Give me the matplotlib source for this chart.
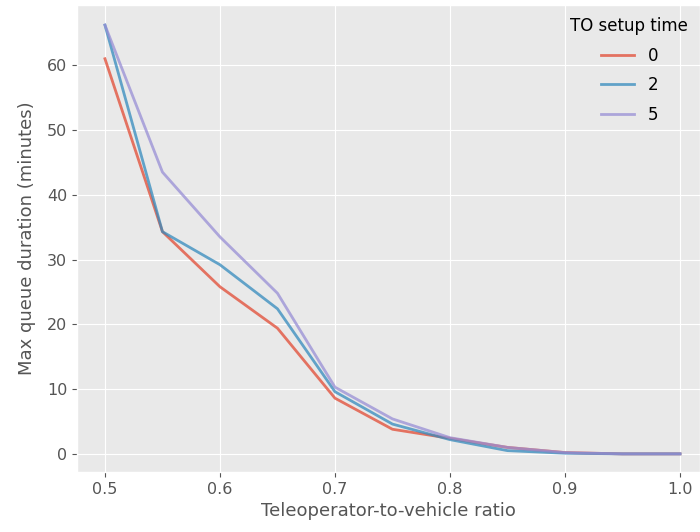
import matplotlib
matplotlib.use("Agg")
import matplotlib.pyplot as plt

plt.style.use("ggplot")

ratio = [0.5, 0.55, 0.6, 0.65, 0.7, 0.75, 0.8, 0.85, 0.9, 0.95, 1.0]
setup_times = ["0", "2", "5"]
queue_0 = [61.0, 34.3, 25.8, 19.4, 8.6, 3.8, 2.4, 1.0, 0.2, 0.0, 0.0]
queue_2 = [66.2, 34.3, 29.2, 22.4, 9.6, 4.6, 2.2, 0.5, 0.1, 0.0, 0.0]
queue_5 = [66.2, 43.5, 33.5, 24.8, 10.3, 5.4, 2.5, 1.0, 0.2, 0.0, 0.0]

fig, ax = plt.subplots(figsize=(7, 5.32), dpi=100)
ax.set_facecolor("#e9e9e9")
for label, values in zip(setup_times, [queue_0, queue_2, queue_5]):
    ax.plot(ratio, values, label=label, linewidth=2, alpha=0.75)

ax.set_xlim(0.4757, 1.0174)
ax.set_ylim(-2.78, 69.25)
ax.set_xlabel("Teleoperator-to-vehicle ratio", fontsize=13)
ax.set_ylabel("Max queue duration (minutes)", fontsize=13, labelpad=8)
ax.tick_params(labelsize=11.5)
leg = ax.legend(title="TO setup time", loc="upper right", fontsize=12,
                title_fontsize=12, frameon=False, labelspacing=0.7,
                borderaxespad=0.3)

fig.subplots_adjust(left=0.11, right=1.0, top=0.99, bottom=0.113)
fig.savefig("out.png")
